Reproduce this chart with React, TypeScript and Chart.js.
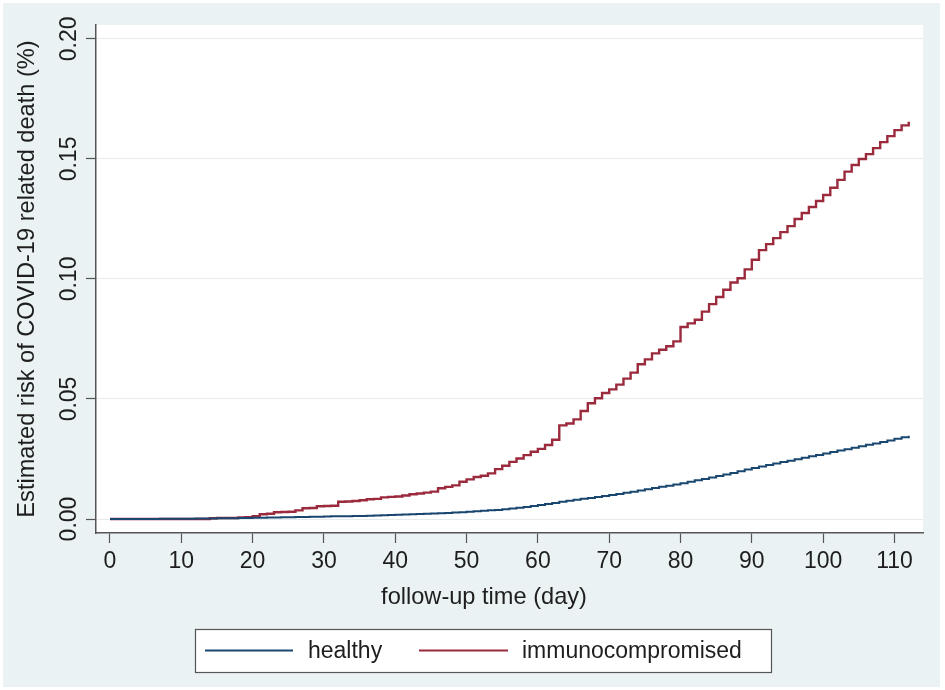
import React, { useEffect, useRef } from "react";
import { Chart, registerables } from "chart.js";

Chart.register(...registerables);

const days = [
  0, 1, 2, 3, 4, 5, 6, 7, 8, 9, 10, 11, 12, 13, 14, 15, 16, 17, 18, 19, 20, 21, 22, 23, 24, 25, 26, 27, 28, 29,
  30, 31, 32, 33, 34, 35, 36, 37, 38, 39, 40, 41, 42, 43, 44, 45, 46, 47, 48, 49, 50, 51, 52, 53, 54, 55, 56, 57,
  58, 59, 60, 61, 62, 63, 64, 65, 66, 67, 68, 69, 70, 71, 72, 73, 74, 75, 76, 77, 78, 79, 80, 81, 82, 83, 84, 85,
  86, 87, 88, 89, 90, 91, 92, 93, 94, 95, 96, 97, 98, 99, 100, 101, 102, 103, 104, 105, 106, 107, 108, 109, 110,
  111, 112,
];

const healthy = [
  0, 0, 0, 0, 0, 0, 0, 0.0001, 0.0001, 0.0001,
  0.0001, 0.0001, 0.0002, 0.0002, 0.0002, 0.0003, 0.0003, 0.0003, 0.0004, 0.0004,
  0.0005, 0.0005, 0.0006, 0.0006, 0.0007, 0.0007, 0.0008, 0.0008, 0.0009, 0.0009,
  0.001, 0.0011, 0.0011, 0.0012, 0.0013, 0.0013, 0.0014, 0.0015, 0.0016, 0.0017,
  0.0018, 0.0019, 0.002, 0.0021, 0.0022, 0.0023, 0.0024, 0.0025, 0.0027, 0.0028,
  0.003, 0.0032, 0.0034, 0.0036, 0.0038, 0.0041, 0.0044, 0.0047, 0.005, 0.0054,
  0.0058, 0.0062, 0.0067, 0.0072, 0.0076, 0.008, 0.0084, 0.0088, 0.0092, 0.0096,
  0.01, 0.0104, 0.0109, 0.0114, 0.0119, 0.0124, 0.0129, 0.0134, 0.0139, 0.0144,
  0.0149, 0.0155, 0.0161, 0.0167, 0.0173, 0.0179, 0.0185, 0.0192, 0.0199, 0.0206,
  0.0213, 0.0219, 0.0225, 0.0231, 0.0237, 0.0243, 0.0249, 0.0255, 0.0261, 0.0267,
  0.0273, 0.0279, 0.0285, 0.0291, 0.0297, 0.0303, 0.0309, 0.0315, 0.0321, 0.0327,
  0.0334, 0.0341, 0.0347,
];

const immunocompromised = [
  0, 0, 0, 0, 0, 0, 0, 0, 0, 0,
  0, 0, 0, 0, 0.0003, 0.0004, 0.0004, 0.0004, 0.0006, 0.0008,
  0.0012, 0.002, 0.0022, 0.0028, 0.0029, 0.003, 0.0036, 0.0045, 0.0046, 0.0053,
  0.0054, 0.0055, 0.0072, 0.0073, 0.0075, 0.0078, 0.0082, 0.0084, 0.009, 0.0092,
  0.0094, 0.0098, 0.0103, 0.0106, 0.011, 0.0114, 0.0128, 0.0134, 0.014, 0.0155,
  0.0165, 0.0175, 0.018, 0.019, 0.0208, 0.0222, 0.0238, 0.0252, 0.0266, 0.028,
  0.0292, 0.0308, 0.033, 0.039, 0.0398, 0.0415, 0.045, 0.0482, 0.0503, 0.0525,
  0.054, 0.056, 0.0585, 0.061, 0.0645, 0.0665, 0.069, 0.0705, 0.072, 0.074,
  0.08, 0.0815, 0.083, 0.0864, 0.0895, 0.0925, 0.0955, 0.0985, 0.1003, 0.104,
  0.108, 0.112, 0.1145, 0.117, 0.1195, 0.122, 0.125, 0.1275, 0.13, 0.1325,
  0.135, 0.138, 0.1413, 0.1447, 0.1475, 0.15, 0.152, 0.1545, 0.157, 0.1595,
  0.162, 0.164, 0.1655,
];

const xTicks = [0, 10, 20, 30, 40, 50, 60, 70, 80, 90, 100, 110];
const yTicks = [0, 0.05, 0.1, 0.15, 0.2];
const yTickLabels = ["0.00", "0.05", "0.10", "0.15", "0.20"];
const seriesNames = ["healthy", "immunocompromised"];
const seriesColors = ["#1a476f", "#9b2a3c"];
const xTitle = "follow-up time (day)";
const yTitle = "Estimated risk of COVID-19 related death (%)";

const FAMILY = "'Liberation Sans', Arial, sans-serif";
const FONT = "23px " + FAMILY;
const TITLE_FONT = "23.6px " + FAMILY;
const TEXT = "#1e1e1e";
const AXIS = "#555555";

const decor = {
  id: "decor",
  beforeDraw(chart: any) {
    const { ctx, chartArea } = chart;
    ctx.save();
    ctx.fillStyle = "#ffffff";
    ctx.fillRect(0, 0, chart.width, chart.height);
    ctx.fillStyle = "#eaf2f3";
    ctx.fillRect(3, 3, 937, 684);
    ctx.fillStyle = "#ffffff";
    ctx.fillRect(chartArea.left, chartArea.top, chartArea.right - chartArea.left, chartArea.bottom - chartArea.top);
    ctx.restore();
  },
  afterDraw(chart: any) {
    const { ctx, chartArea } = chart;
    const xs = chart.scales.x;
    const ys = chart.scales.y;
    ctx.save();
    ctx.font = FONT;
    ctx.fillStyle = TEXT;
    // x tick labels
    ctx.textAlign = "center";
    ctx.textBaseline = "alphabetic";
    xTicks.forEach((v) => {
      ctx.fillText(String(v), xs.getPixelForValue(v), 568);
    });
    // y tick labels (rotated)
    yTicks.forEach((v, i) => {
      ctx.save();
      ctx.translate(76, ys.getPixelForValue(v));
      ctx.rotate(-Math.PI / 2);
      ctx.textAlign = "center";
      ctx.fillText(yTickLabels[i], 0, 0);
      ctx.restore();
    });
    // titles
    ctx.font = TITLE_FONT;
    ctx.textAlign = "center";
    ctx.fillText(xTitle, 484, 604);
    ctx.save();
    ctx.translate(34, (chartArea.top + chartArea.bottom) / 2);
    ctx.rotate(-Math.PI / 2);
    ctx.fillText(yTitle, 0, 0);
    ctx.restore();

    // legend
    ctx.font = FONT;
    const bx = 195, by = 629, bw = 576, bh = 43;
    ctx.fillStyle = "#ffffff";
    ctx.fillRect(bx, by, bw, bh);
    ctx.strokeStyle = AXIS;
    ctx.lineWidth = 1.2;
    ctx.strokeRect(bx + 0.5, by + 0.5, bw, bh);
    const items = [
      { x1: 205, x2: 293, tx: 308 },
      { x1: 419, x2: 508, tx: 522 },
    ];
    items.forEach((it, i) => {
      const ds = chart.data.datasets[i];
      ctx.strokeStyle = ds.borderColor;
      ctx.lineWidth = 2;
      ctx.beginPath();
      ctx.moveTo(it.x1, 650.5);
      ctx.lineTo(it.x2, 650.5);
      ctx.stroke();
      ctx.fillStyle = TEXT;
      ctx.textAlign = "left";
      ctx.fillText(ds.label, it.tx, 658);
    });
    ctx.restore();
  },
};

export default function App() {
  const ref = useRef<HTMLCanvasElement | null>(null);

  useEffect(() => {
    if (!ref.current) return;
    const chart = new Chart(ref.current, {
      type: "line",
      data: {
        datasets: [
          {
            label: seriesNames[0],
            data: days.map((d, i) => ({ x: d, y: healthy[i] })),
            borderColor: seriesColors[0],
            borderWidth: 2,
            pointRadius: 0,
            stepped: true,
            fill: false,
          },
          {
            label: seriesNames[1],
            data: days.map((d, i) => ({ x: d, y: immunocompromised[i] })),
            borderColor: seriesColors[1],
            borderWidth: 2.4,
            pointRadius: 0,
            stepped: true,
            fill: false,
          },
        ],
      },
      options: {
        animation: false,
        responsive: false,
        devicePixelRatio: 1,
        layout: { padding: { top: 25, right: 22, left: 0, bottom: 0 } },
        plugins: { legend: { display: false }, tooltip: { enabled: false } },
        scales: {
          x: {
            type: "linear",
            min: -1.96,
            max: 114.0,
            afterBuildTicks: (axis: any) => {
              axis.ticks = xTicks.map((v) => ({ value: v }));
            },
            afterFit: (axis: any) => {
              axis.height = 157;
            },
            ticks: { display: false },
            grid: {
              drawOnChartArea: false,
              drawTicks: true,
              tickLength: 10,
              tickColor: AXIS,
              tickWidth: 1.2,
              color: AXIS,
            },
            border: { display: true, color: AXIS, width: 1.5 },
          },
          y: {
            type: "linear",
            min: -0.00583,
            max: 0.2058,
            afterBuildTicks: (axis: any) => {
              axis.ticks = yTicks.map((v) => ({ value: v }));
            },
            afterFit: (axis: any) => {
              axis.width = 96;
            },
            ticks: { display: false },
            grid: {
              drawOnChartArea: true,
              drawTicks: true,
              tickLength: 10,
              tickColor: AXIS,
              tickWidth: 1.2,
              color: "#e6ecee",
              lineWidth: 1,
            },
            border: { display: true, color: AXIS, width: 1.5 },
          },
        },
      },
      plugins: [decor],
    });
    return () => chart.destroy();
  }, []);

  return (
    <div style={{ position: "absolute", left: 0, top: 0, width: 945, height: 690 }}>
      <canvas ref={ref} width={945} height={690} style={{ display: "block", width: 945, height: 690 }} />
    </div>
  );
}
